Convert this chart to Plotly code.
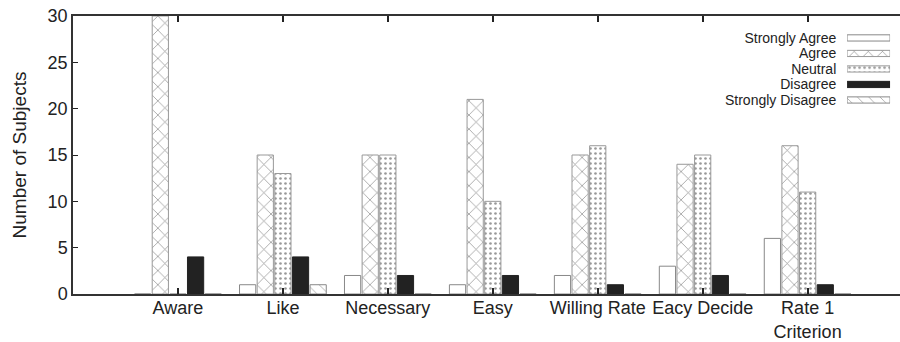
import plotly.graph_objects as go

categories = ["Aware", "Like", "Necessary", "Easy", "Willing Rate", "Eacy Decide", "Rate 1<br>Criterion"]
series_names = ["Strongly Agree", "Agree", "Neutral", "Disagree", "Strongly Disagree"]
strongly_agree = [0, 1, 2, 1, 2, 3, 6]
agree = [30, 15, 15, 21, 15, 14, 16]
neutral = [0, 13, 15, 10, 16, 15, 11]
disagree = [4, 4, 2, 2, 1, 2, 1]
strongly_disagree = [0, 1, 0, 0, 0, 0, 0]
y_ticks = [0, 5, 10, 15, 20, 25, 30]

values = [strongly_agree, agree, neutral, disagree, strongly_disagree]
styles = [
    dict(color="white", line=dict(color="#888", width=1), pattern=dict(shape="")),
    dict(color="white", line=dict(color="#999", width=1),
         pattern=dict(shape="x", fgcolor="#222", bgcolor="white", size=10, solidity=0.14)),
    dict(color="white", line=dict(color="#999", width=1),
         pattern=dict(shape=".", fgcolor="#333", bgcolor="white", size=5, solidity=0.22)),
    dict(color="#222", line=dict(color="#222", width=1), pattern=dict(shape="")),
    dict(color="white", line=dict(color="#888", width=1),
         pattern=dict(shape="\\", fgcolor="#444", bgcolor="white", size=8, solidity=0.1)),
]

xpos = list(range(1, len(categories) + 1))
fig = go.Figure()
for name, vals, st in zip(series_names, values, styles):
    fig.add_trace(go.Bar(x=xpos, y=vals, name=name, marker=st, showlegend=False))

# legend key (gnuplot style: right-aligned label, wide swatch to its right)
key_len = 1
for i, (name, st) in enumerate(zip(series_names, styles)):
    fig.add_trace(go.Bar(x=[key_len], y=[i], orientation="h", width=0.4,
                         marker=st, name=name, showlegend=False,
                         xaxis="x2", yaxis="y2", hoverinfo="name"))

font = "Liberation Sans, Arial, sans-serif"
fig.update_layout(
    width=900, height=342,
    margin=dict(l=73, r=0, t=16, b=48, autoexpand=False),
    paper_bgcolor="white", plot_bgcolor="white",
    barmode="group", bargap=0.16, bargroupgap=0.08,
    font=dict(family=font, size=18, color="#222"),
    showlegend=False,
    xaxis=dict(
        range=[0, 7.88], tickvals=xpos, ticktext=categories,
        ticks="inside", ticklen=6, tickcolor="#222", tickwidth=2,
        showline=True, linecolor="#333", linewidth=1.5, mirror="ticks",
        showgrid=False, zeroline=False, tickfont=dict(size=18), automargin=False,
        ticklabelstandoff=-3,
    ),
    yaxis=dict(
        range=[0, 30], tickvals=y_ticks,
        ticks="inside", ticklen=5, tickcolor="#222", tickwidth=1,
        showline=True, linecolor="#333", linewidth=1.5, mirror=False,
        showgrid=False, zeroline=False, tickfont=dict(size=18), automargin=False,
        title=dict(text="Number of Subjects", font=dict(size=19), standoff=16),
    ),
    xaxis2=dict(domain=[0.936, 0.988], range=[0, key_len], anchor="y2",
                visible=False, fixedrange=True),
    yaxis2=dict(domain=[0.670, 0.949], range=[4.5, -0.5], anchor="x2",
                tickvals=list(range(len(series_names))), ticktext=series_names,
                ticks="outside", ticklen=7, tickcolor="rgba(0,0,0,0)",
                showline=False, showgrid=False, zeroline=False,
                tickfont=dict(size=14, color="#222"), automargin=False, fixedrange=True),
)
fig.write_html(
    "out.html", config={"displayModeBar": False},
    post_script=("document.body.style.margin='0';document.body.style.padding='0';"
                 "document.body.style.overflow='hidden';"
                 "document.documentElement.style.overflow='hidden';"),
)
